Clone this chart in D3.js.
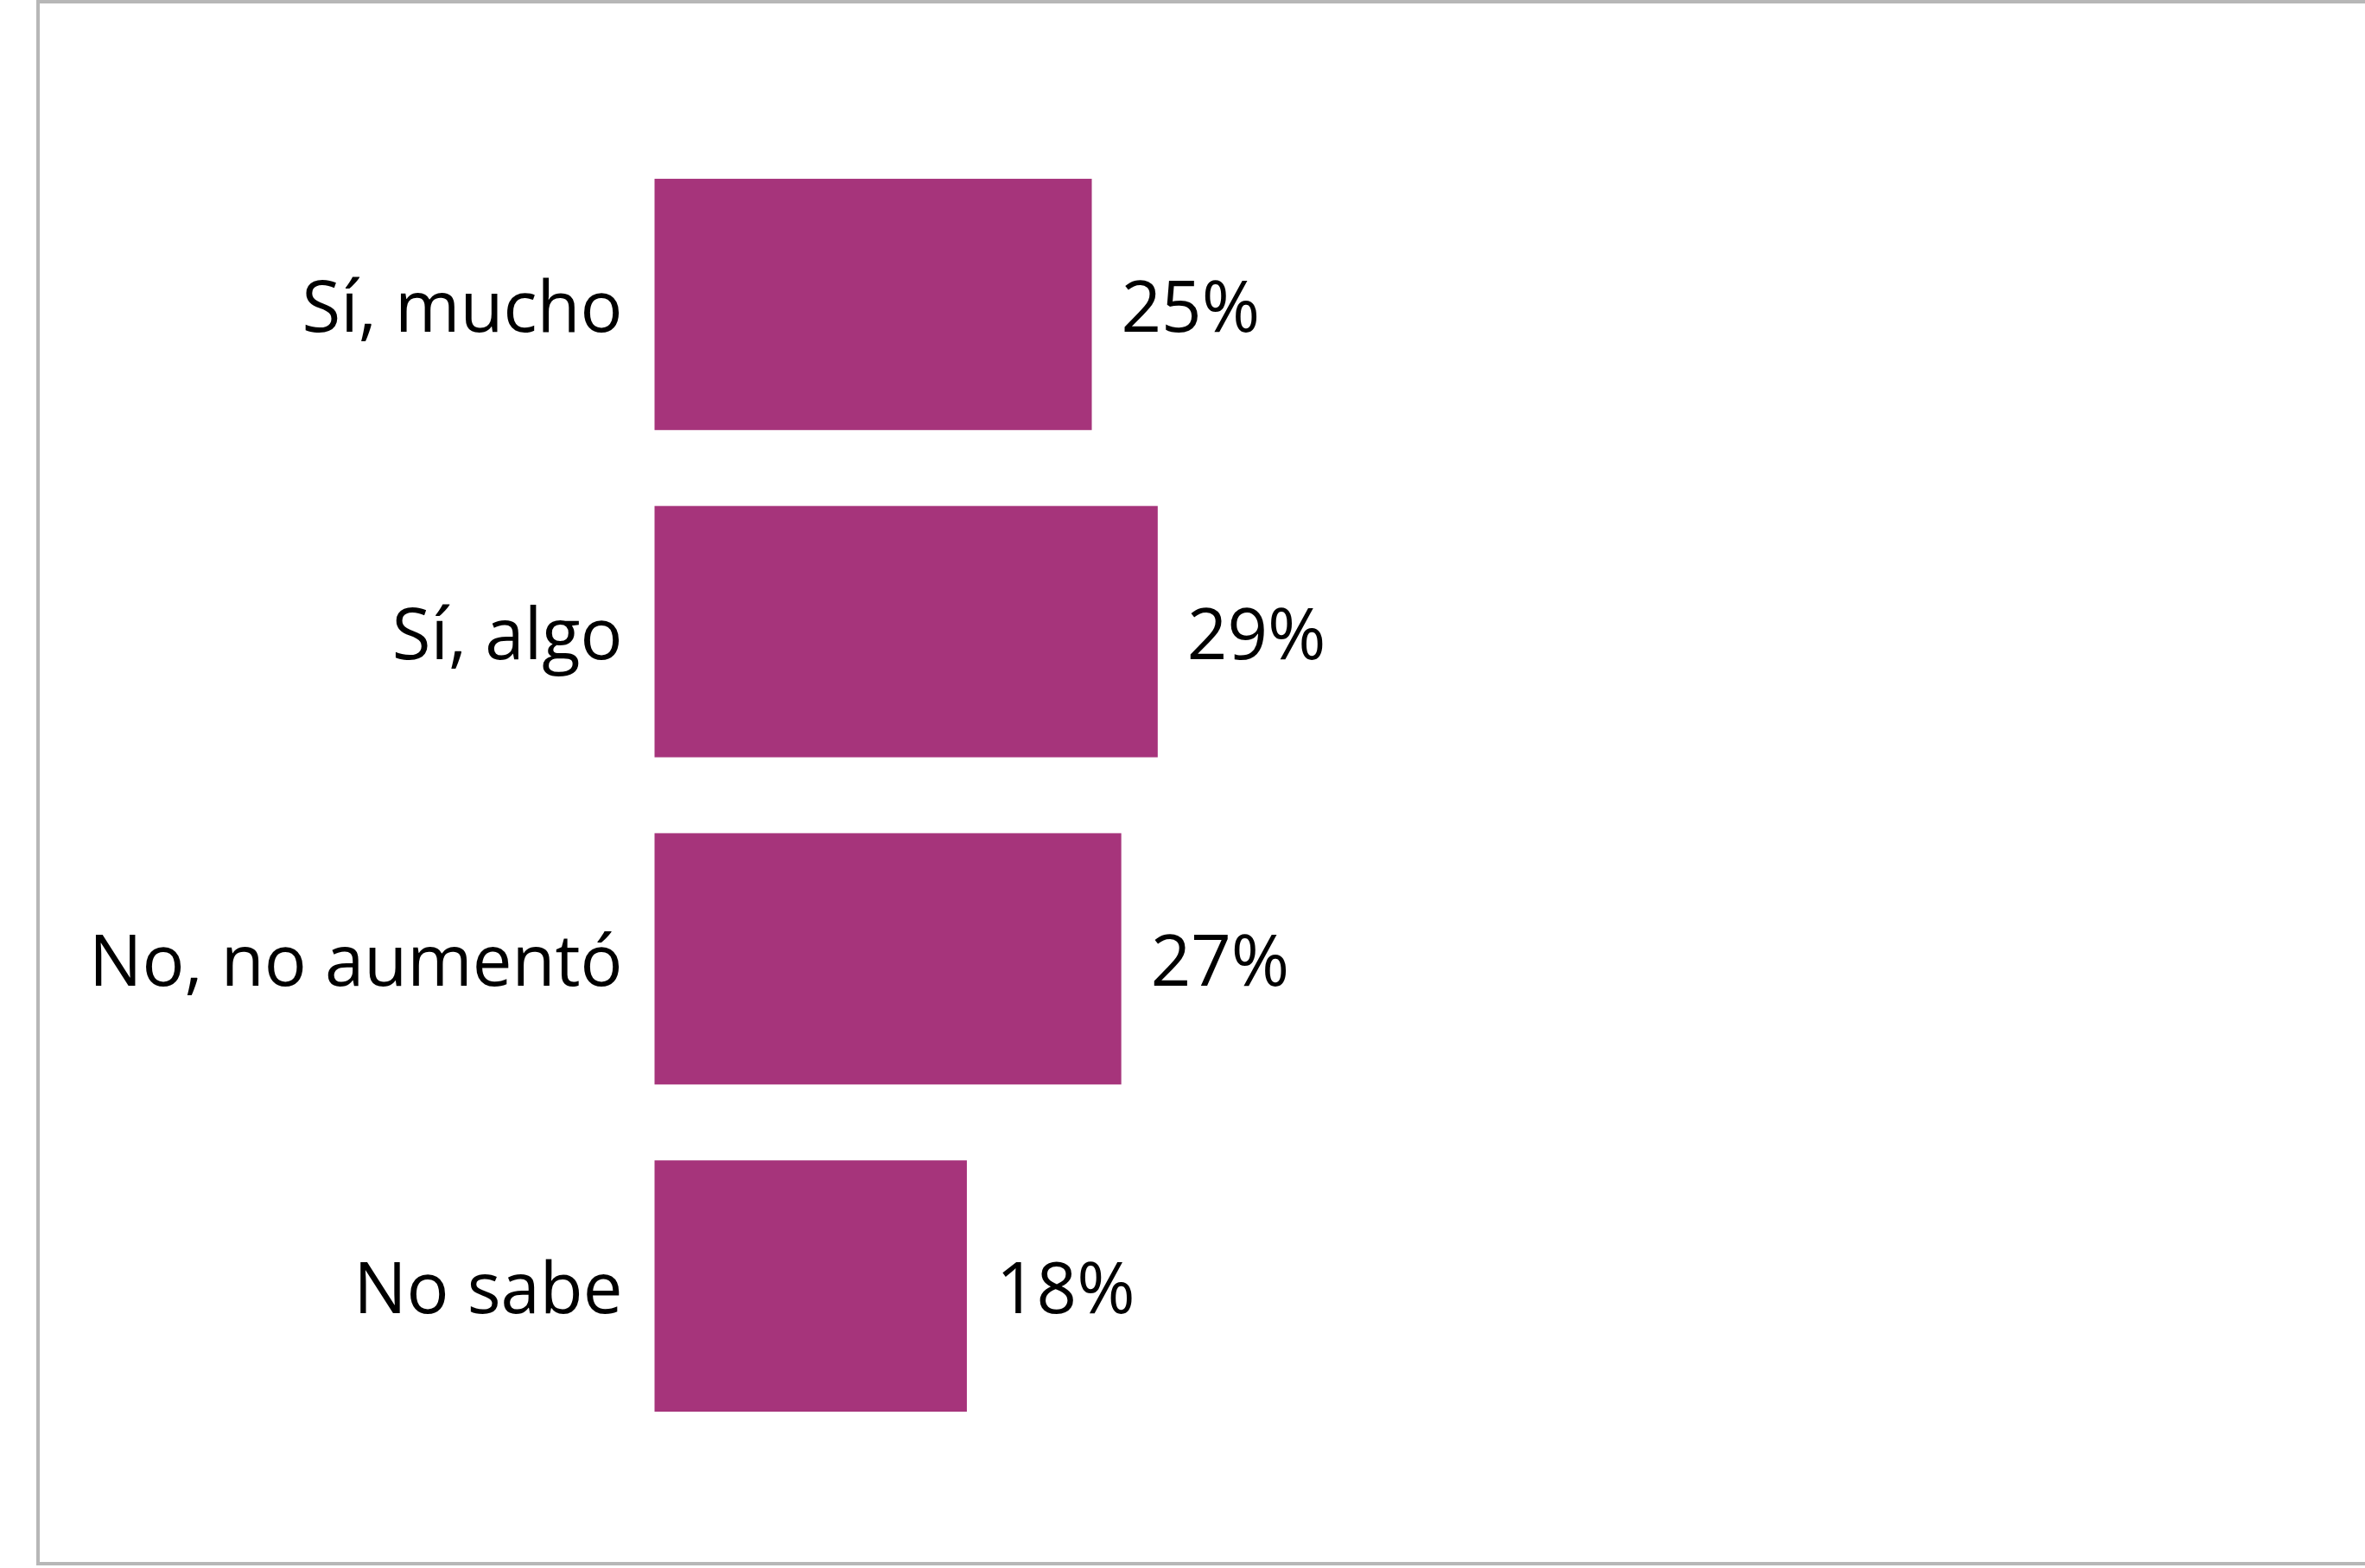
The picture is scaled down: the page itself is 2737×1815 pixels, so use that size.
<!DOCTYPE html>
<html>
<head>
<meta charset="utf-8">
<script src="https://cdn.jsdelivr.net/npm/d3@7"></script>
<style>
  html, body { margin: 0; padding: 0; background: #ffffff; }
  svg { display: block; }
</style>
</head>
<body>
<script>
const categories = ["Sí, mucho", "Sí, algo", "No, no aumentó", "No sabe"];
const values = [25.2, 29.0, 26.9, 18.0];
const valueLabels = ["25%", "29%", "27%", "18%"];

const W = 2737, H = 1815;
const svg = d3.select("body").append("svg").attr("width", W).attr("height", H);

// outer frame (right edge runs off the picture)
svg.append("rect")
  .attr("x", 44).attr("y", 2)
  .attr("width", W + 20).attr("height", 1808)
  .attr("fill", "#ffffff")
  .attr("stroke", "#b7b7b7").attr("stroke-width", 4);

const x = d3.scaleLinear().domain([0, 50]).range([757.5, 757.5 + 50 * 20.08]);
const y = d3.scaleBand().domain(categories).range([163, 1678])
  .paddingInner(0.232).paddingOuter(0.116);

const fontFamily = "'Open Sans', 'Noto Sans', sans-serif";
const fs = 81.5;

const g = svg.append("g");
g.selectAll("rect.bar").data(categories).join("rect")
  .attr("class", "bar")
  .attr("x", x(0))
  .attr("y", d => y(d))
  .attr("width", (d, i) => x(values[i]) - x(0))
  .attr("height", y.bandwidth())
  .attr("fill", "#a6347b");

// category axis labels
const yAxis = d3.axisLeft(y).tickSize(0).tickPadding(37);
const ax = svg.append("g").attr("transform", `translate(${x(0)},0)`).call(yAxis);
ax.select(".domain").remove();
ax.selectAll("text")
  .attr("font-family", fontFamily)
  .attr("font-size", fs)
  .attr("fill", "#000")
  .attr("dy", null)
  .attr("dominant-baseline", "central");

// value labels
g.selectAll("text.val").data(categories).join("text")
  .attr("class", "val")
  .attr("x", (d, i) => x(values[i]) + 34)
  .attr("y", d => y(d) + y.bandwidth() / 2)
  .attr("dominant-baseline", "central")
  .attr("font-family", fontFamily)
  .attr("font-size", fs)
  .attr("fill", "#000")
  .text((d, i) => valueLabels[i]);
</script>
</body>
</html>
